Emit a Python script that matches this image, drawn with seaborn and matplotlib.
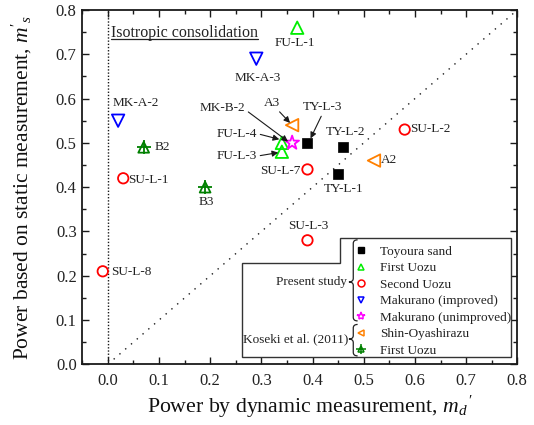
import numpy as np
import pandas as pd
import matplotlib
matplotlib.use("Agg")
import matplotlib.pyplot as plt
import seaborn as sns
from matplotlib.path import Path
from matplotlib.patches import PathPatch, Polygon
from matplotlib.lines import Line2D
from matplotlib.ticker import MultipleLocator

sns.set_theme(style="ticks")
plt.rcParams["font.family"] = ["Liberation Serif", "DejaVu Serif"]
plt.rcParams["mathtext.fontset"] = "custom"
plt.rcParams["mathtext.rm"] = "Liberation Serif"
plt.rcParams["mathtext.it"] = "Liberation Serif:italic"

# ---------------- data ----------------
toyoura_labels = ["TY-L-1", "TY-L-2", "TY-L-3"]
toyoura_md = [0.45, 0.46, 0.39]
toyoura_ms = [0.43, 0.49, 0.50]

fu_labels = ["FU-L-1", "FU-L-3", "FU-L-4"]
fu_md = [0.37, 0.34, 0.34]
fu_ms = [0.76, 0.48, 0.50]

su_labels = ["SU-L-1", "SU-L-2", "SU-L-3", "SU-L-7", "SU-L-8"]
su_md = [0.03, 0.58, 0.39, 0.39, -0.01]
su_ms = [0.42, 0.53, 0.28, 0.44, 0.21]

mki_labels = ["MK-A-2", "MK-A-3"]
mki_md = [0.02, 0.29]
mki_ms = [0.55, 0.69]

mku_labels = ["MK-B-2"]
mku_md = [0.36]
mku_ms = [0.50]

shin_labels = ["A2", "A3"]
shin_md = [0.52, 0.36]
shin_ms = [0.46, 0.54]

kfu_labels = ["B2", "B3"]
kfu_md = [0.07, 0.19]
kfu_ms = [0.49, 0.40]

series_keys = ["TY", "FU", "SU", "MKI", "MKU", "SHIN", "KFU"]
series_names = ["Toyoura sand", "First Uozu", "Second Uozu", "Makurano (improved)",
                "Makurano (unimproved)", "Shin-Oyashirazu", "First Uozu"]

frames = []
for key, labs, xs, ys in [("TY", toyoura_labels, toyoura_md, toyoura_ms),
                          ("FU", fu_labels, fu_md, fu_ms),
                          ("SU", su_labels, su_md, su_ms),
                          ("MKI", mki_labels, mki_md, mki_ms),
                          ("MKU", mku_labels, mku_md, mku_ms),
                          ("SHIN", shin_labels, shin_md, shin_ms),
                          ("KFU", kfu_labels, kfu_md, kfu_ms)]:
    frames.append(pd.DataFrame({"group": key, "label": labs, "md": xs, "ms": ys}))
df = pd.concat(frames, ignore_index=True)

# ---------------- styles ----------------
styles = {
    "TY":   dict(marker="s", color="#000000", s=52, filled=True),
    "FU":   dict(marker="^", color="#00EE00", s=80, filled=False),
    "SU":   dict(marker="o", color="#FF0000", s=56, filled=False),
    "MKI":  dict(marker="v", color="#0000FF", s=80, filled=False),
    "MKU":  dict(marker="*", color="#FF00FF", s=110, filled=False),
    "SHIN": dict(marker="<", color="#FF8000", s=80, filled=False),
    "KFU":  dict(marker="^", color="#008000", s=60, filled=False),
}

fig = plt.figure(figsize=(5.34, 4.25), dpi=100)
ax = fig.add_axes([0.1541, 0.1428, 0.9687 - 0.1541, 0.9765 - 0.1428])

# reference lines
ax.plot([0, 0], [0, 0.8], color="k", lw=1.0, ls=(0, (1, 1.3)), zorder=1)
ax.plot([0, 0.8], [0, 0.8], color="k", lw=1.0, ls=(0, (1, 4.5)), zorder=1)

for key in series_keys:
    st = styles[key]
    sub = df[df.group == key]
    if st["filled"]:
        sns.scatterplot(data=sub, x="md", y="ms", marker=st["marker"], s=st["s"],
                        color=st["color"], edgecolor=st["color"], linewidth=0.5,
                        legend=False, ax=ax, zorder=4)
    else:
        sns.scatterplot(data=sub, x="md", y="ms", marker=st["marker"], s=st["s"],
                        facecolor="none", edgecolor=st["color"], linewidth=1.3,
                        legend=False, ax=ax, zorder=4)
    if key == "KFU":
        sns.scatterplot(data=sub, x="md", y="ms", marker="+", s=110,
                        color=st["color"], linewidth=1.3, legend=False, ax=ax, zorder=4)

ax.set_xlim(-0.05, 0.8)
ax.set_ylim(0, 0.8)
ax.xaxis.set_major_locator(MultipleLocator(0.1))
ax.yaxis.set_major_locator(MultipleLocator(0.1))
ax.xaxis.set_minor_locator(MultipleLocator(0.05))
ax.yaxis.set_minor_locator(MultipleLocator(0.05))
ax.tick_params(which="both", direction="in", top=True, right=True, color="k",
               width=1.0, labelsize=12, labelcolor="#222222")
ax.tick_params(which="major", length=5)
ax.tick_params(which="minor", length=3)
ax.tick_params(axis="x", pad=6)
ax.tick_params(axis="y", pad=4)
ax.xaxis.set_major_formatter(matplotlib.ticker.FormatStrFormatter("%.1f"))
ax.yaxis.set_major_formatter(matplotlib.ticker.FormatStrFormatter("%.1f"))
for sp in ax.spines.values():
    sp.set_color("k")
    sp.set_linewidth(1.3)
    sp.set_visible(True)

ax.set_xlabel("Power by dynamic measurement, $m_{d}\\,'$", fontsize=15.7, color="#111111")
ax.set_ylabel("Power based on static measurement, $m'_{s}$", fontsize=15.5, color="#111111")
ax.xaxis.set_label_coords(0.525, -0.082)
ax.yaxis.set_label_coords(-0.111, 0.5)

# ---------------- point labels ----------------
lab_fs = 9.5
tc = "#222222"
plain_labels = {
    "FU-L-1": (0.366, 0.725, "center"),
    "MK-A-3": (0.293, 0.647, "center"),
    "MK-A-2": (0.055, 0.591, "center"),
    "B2": (0.092, 0.491, "left"),
    "SU-L-1": (0.040, 0.416, "left"),
    "B3": (0.192, 0.367, "center"),
    "SU-L-7": (0.376, 0.436, "right"),
    "TY-L-2": (0.465, 0.524, "center"),
    "TY-L-1": (0.460, 0.395, "center"),
    "SU-L-2": (0.590, 0.531, "left"),
    "A2": (0.533, 0.461, "left"),
    "SU-L-3": (0.391, 0.312, "center"),
    "SU-L-8": (0.007, 0.208, "left"),
}
for lab, (tx, ty, ha) in plain_labels.items():
    ax.text(tx, ty, lab, fontsize=lab_fs, ha=ha, va="center", color=tc, zorder=5)

arrow_labels = {
    # label: (text x, text y, ha, relpos)
    "MK-B-2": (0.268, 0.578, "right", (1.0, 0.4)),
    "A3": (0.320, 0.591, "center", (0.8, 0.0)),
    "TY-L-3": (0.420, 0.581, "center", (0.5, 0.0)),
    "FU-L-4": (0.252, 0.521, "center", (1.0, 0.5)),
    "FU-L-3": (0.252, 0.470, "center", (1.0, 0.5)),
}
head_offsets = {"MK-B-2": (-0.008, 0.003), "A3": (-0.004, 0.005), "TY-L-3": (0.006, 0.010),
                "FU-L-4": (-0.005, 0.008), "FU-L-3": (-0.007, -0.002)}
for lab, (tx, ty, ha, rp) in arrow_labels.items():
    row = df[df.label == lab].iloc[0]
    hx = row.md + head_offsets[lab][0]
    hy = row.ms + head_offsets[lab][1]
    ax.annotate(lab, xy=(hx, hy), xytext=(tx, ty), fontsize=lab_fs, ha=ha, va="center",
                color=tc, zorder=5,
                arrowprops=dict(arrowstyle="-|>", color="k", lw=0.8, mutation_scale=9,
                                shrinkA=0, shrinkB=0, relpos=rp))

# isotropic consolidation (underlined)
iso = ax.text(0.006, 0.748, "Isotropic consolidation", fontsize=11.5, ha="left",
              va="center", color=tc, zorder=5)
fig.canvas.draw()
bb = iso.get_window_extent().transformed(ax.transData.inverted())
ax.plot([bb.x0, bb.x1], [bb.y0 + 0.004, bb.y0 + 0.004], color=tc, lw=0.9, zorder=5)

# ---------------- legend ----------------
box = Polygon([(0.262, 0.017), (0.262, 0.229), (0.454, 0.229), (0.454, 0.285),
               (0.787, 0.285), (0.787, 0.017)], closed=True, fill=True,
              facecolor="white", edgecolor="#333333", lw=1.0, zorder=6)
ax.add_patch(box)

handles = []
for key in series_keys:
    st = styles[key]
    if st["filled"]:
        h = Line2D([], [], marker=st["marker"], ls="none", color=st["color"], markersize=4.5)
    else:
        h = Line2D([], [], marker=st["marker"], ls="none", mfc="none", mec=st["color"],
                   markersize=5 if key != "MKU" else 6, mew=1.1)
    if key == "KFU":
        h2 = Line2D([], [], marker="+", ls="none", color=st["color"], markersize=6.5, mew=1.1)
        h = (h, h2)
    handles.append(h)
leg = ax.legend(handles, series_names, loc="upper left", bbox_to_anchor=(0.482, 0.268),
                bbox_transform=ax.transData, frameon=False, fontsize=9.5,
                handlelength=1.0, handletextpad=0.95, labelspacing=0.32,
                borderpad=0, borderaxespad=0)
leg.set_zorder(7)
for t in leg.get_texts():
    t.set_color(tc)


def brace(x_tip, x_end, y0, y1, ym):
    xm = (x_tip + x_end) / 2
    r = 0.008
    verts = [(x_end, y1), (xm, y1), (xm, y1 - r), (xm, ym + r), (xm, ym), (x_tip, ym),
             (xm, ym), (xm, ym - r), (xm, y0 + r), (xm, y0), (x_end, y0)]
    codes = [Path.MOVETO, Path.CURVE3, Path.CURVE3, Path.LINETO, Path.CURVE3, Path.CURVE3,
             Path.CURVE3, Path.CURVE3, Path.LINETO, Path.CURVE3, Path.CURVE3]
    ax.add_patch(PathPatch(Path(verts, codes), fill=False, edgecolor="#222222", lw=0.9, zorder=7))


brace(0.471, 0.488, 0.098, 0.281, 0.186)
brace(0.471, 0.488, 0.019, 0.090, 0.057)
ax.text(0.467, 0.186, "Present study", fontsize=9.5, ha="right", va="center", color=tc, zorder=7)
ax.text(0.469, 0.057, "Koseki et al. (2011)", fontsize=9.5, ha="right", va="center", color=tc, zorder=7)

fig.savefig("out.png", dpi=100)
